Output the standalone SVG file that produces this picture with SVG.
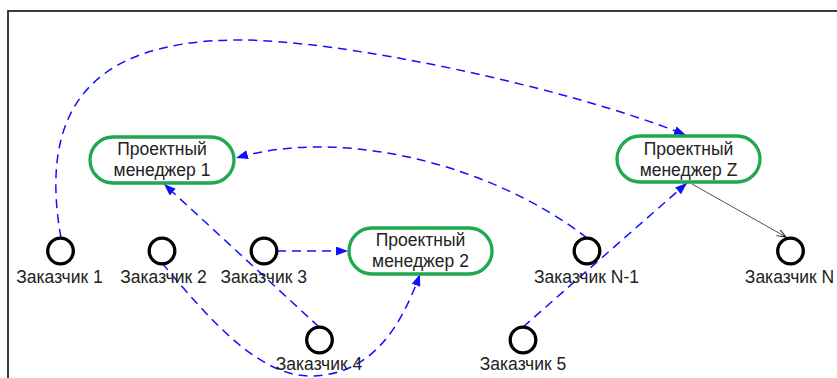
<svg xmlns="http://www.w3.org/2000/svg" width="837" height="378" viewBox="0 0 837 378">
<style>
.frame{fill:none;stroke:#1a1a1a;stroke-width:1.7}
.cust{fill:#fff;stroke:#000;stroke-width:3.3}
.pm{fill:#fff;stroke:#1ea84f;stroke-width:3.3}
.lbl{font-family:"Liberation Sans",Arial,sans-serif;font-size:17.5px;fill:#222;text-anchor:middle}
.dash{fill:none;stroke:#1010ff;stroke-width:1.5;stroke-dasharray:9 6}
.solid{fill:none;stroke:#222;stroke-width:0.8}
</style>
<defs>
<marker id="ab" markerUnits="userSpaceOnUse" markerWidth="12" markerHeight="10" refX="12" refY="4.5" orient="auto">
<path d="M0,0 L12,4.5 L0,9 z" fill="#1010ff"/>
</marker>
<marker id="ak" markerUnits="userSpaceOnUse" markerWidth="10" markerHeight="8" refX="9" refY="3.5" orient="auto">
<path d="M0,0 L9,3.5 L0,7" fill="none" stroke="#111" stroke-width="1"/>
</marker>
</defs>
<rect class="frame" x="8" y="11" width="840" height="380"/>
<g id="connectors">
<path class="dash" d="M61,238 C40,120 80,40 240,40 C340,40 560,85 686,135" marker-end="url(#ab)"/>
<path class="dash" d="M587,238 C500,170 350,125 236,158" marker-end="url(#ab)"/>
<path class="dash" d="M319,327 L164,184" marker-end="url(#ab)"/>
<path class="dash" d="M162,263 C210,320 260,378 313,376 C370,374 400,330 420,274" marker-end="url(#ab)"/>
<path class="dash" d="M277,251 L348,251" marker-end="url(#ab)"/>
<path class="dash" d="M523,327 L687,183" marker-end="url(#ab)"/>
<path class="solid" d="M692,184 L786,237" marker-end="url(#ak)"/>
</g>
<g id="pm1">
<rect class="pm" x="90" y="137" width="144" height="46" rx="23"/>
<text class="lbl" x="162" y="155">Проектный</text>
<text class="lbl" x="162" y="176">менеджер 1</text>
</g>
<g id="pm2">
<rect class="pm" x="349" y="228" width="143" height="46" rx="23"/>
<text class="lbl" x="420.5" y="246">Проектный</text>
<text class="lbl" x="420.5" y="267">менеджер 2</text>
</g>
<g id="pmz">
<rect class="pm" x="617" y="136" width="143" height="46" rx="23"/>
<text class="lbl" x="688.5" y="155">Проектный</text>
<text class="lbl" x="688.5" y="176">менеджер Z</text>
</g>
<g id="c1"><circle class="cust" cx="60.5" cy="251" r="12.8"/><text class="lbl" x="59.5" y="283">Заказчик 1</text></g>
<g id="c2"><circle class="cust" cx="162" cy="251" r="12.8"/><text class="lbl" x="163.5" y="283">Заказчик 2</text></g>
<g id="c3"><circle class="cust" cx="264" cy="251" r="12.8"/><text class="lbl" x="263.7" y="283">Заказчик 3</text></g>
<g id="c4"><circle class="cust" cx="319.5" cy="340" r="12.8"/><text class="lbl" x="319" y="370">Заказчик 4</text></g>
<g id="c5"><circle class="cust" cx="523" cy="340" r="12.8"/><text class="lbl" x="523" y="370">Заказчик 5</text></g>
<g id="cn1"><circle class="cust" cx="587" cy="251" r="12.8"/><text class="lbl" x="586.5" y="283">Заказчик N-1</text></g>
<g id="cn"><circle class="cust" cx="790.5" cy="251" r="12.8"/><text class="lbl" x="789.5" y="283">Заказчик N</text></g>
</svg>
